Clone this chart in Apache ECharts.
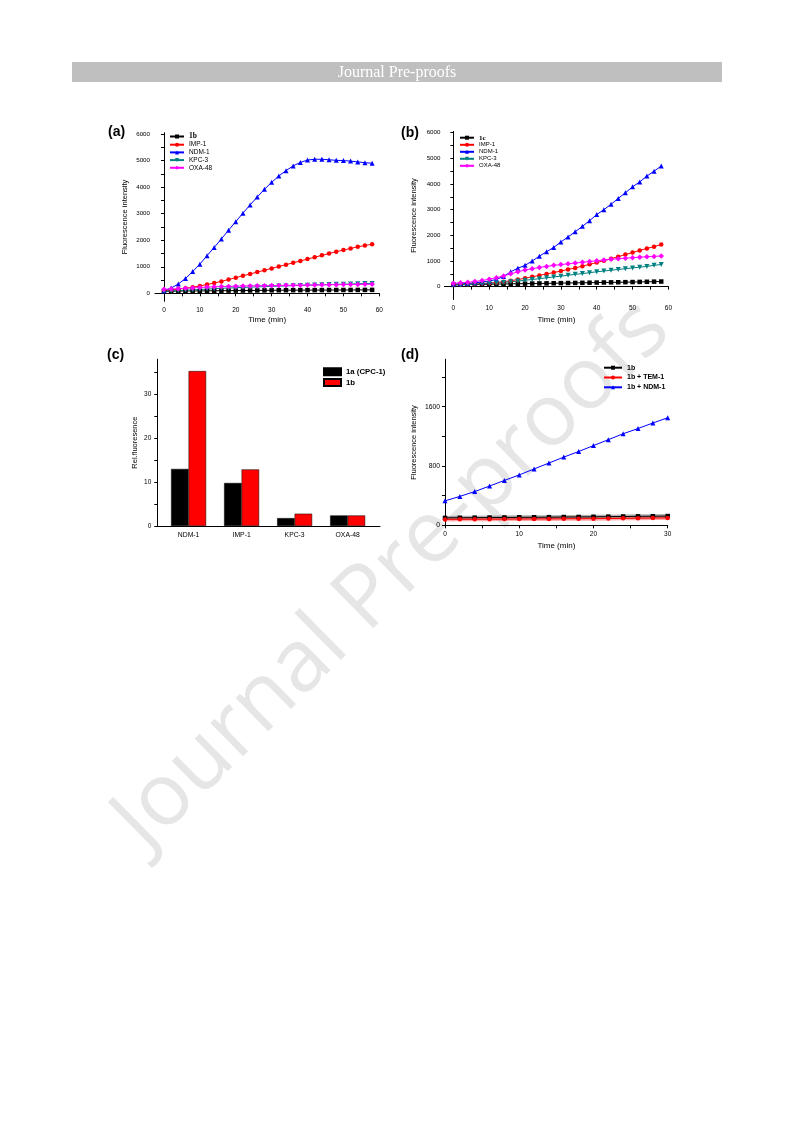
<!DOCTYPE html>
<html>
<head>
<meta charset="utf-8">
<script src="https://cdn.jsdelivr.net/npm/echarts@6/dist/echarts.min.js"></script>
<style>
html,body{margin:0;padding:0;background:#fff;}
#chart{width:793px;height:1121px;}
</style>
</head>
<body>
<div id="chart"></div>
<script>
// ---------- data ----------
const timeAB = [0,2,4,6,8,10,12,14,16,18,20,22,24,26,28,30,32,34,36,38,40,42,44,46,48,50,52,54,56,58];
const legendA = ['1b','IMP-1','NDM-1','KPC-3','OXA-48'];
const a_1b    = [80,82,85,88,90,92,95,97,100,102,104,106,108,110,112,114,116,118,119,120,121,122,123,124,125,126,127,128,129,130];
const a_IMP1  = [100,130,160,190,230,280,330,390,450,520,590,660,730,800,870,940,1010,1080,1150,1220,1290,1360,1430,1500,1570,1630,1690,1750,1800,1850];
const a_NDM1  = [100,200,350,560,820,1100,1420,1730,2050,2380,2700,3020,3330,3630,3920,4180,4420,4620,4800,4930,5020,5050,5050,5030,5010,5000,4980,4950,4920,4900];
const a_KPC3  = [80,90,100,115,130,145,160,175,190,200,212,222,232,242,252,262,272,280,290,298,306,314,322,330,338,345,352,360,368,375];
const a_OXA48 = [150,160,175,190,205,220,235,245,255,262,268,274,279,284,288,292,296,300,304,308,312,316,320,324,328,331,334,337,340,343];

const legendB = ['1c','IMP-1','NDM-1','KPC-3','OXA-48'];
const b_1c    = [70,75,80,85,90,95,100,105,110,115,118,122,126,130,134,138,142,146,150,155,160,164,168,172,176,180,185,190,195,200];
const b_IMP1  = [80,85,95,105,120,140,165,195,230,275,330,385,440,495,550,610,670,730,800,870,940,1010,1090,1170,1250,1330,1410,1490,1560,1640];
const b_NDM1  = [100,110,125,150,180,220,280,400,580,720,830,1000,1190,1360,1530,1740,1940,2140,2350,2570,2810,3000,3210,3440,3660,3890,4080,4310,4500,4700];
const b_KPC3  = [70,75,85,95,110,125,145,165,190,220,250,280,310,345,380,410,445,480,510,545,580,610,640,670,700,730,760,790,830,865];
const b_OXA48 = [130,150,170,200,240,290,350,420,500,580,650,700,750,790,830,860,890,920,950,980,1010,1040,1065,1090,1110,1130,1150,1165,1180,1195];

const catsC = ['NDM-1','IMP-1','KPC-3','OXA-48'];
const legendC = ['1a (CPC-1)','1b'];
const c_1a = [13, 9.8, 1.8, 2.4];
const c_1b = [35.3, 12.9, 2.8, 2.4];

const timeD = [0,2,4,6,8,10,12,14,16,18,20,22,24,26,28,30];
const legendD = ['1b','1b + TEM-1','1b + NDM-1'];
const d_1b    = [100,102,103,105,106,108,109,110,112,113,115,117,119,121,123,125];
const d_TEM1  = [80,81,82,83,84,85,86,87,88,89,90,92,94,96,98,100];
const d_NDM1  = [330,390,455,530,605,680,760,840,920,995,1075,1155,1235,1305,1380,1450];

const ticksAB_x = [0,5,10,15,20,25,30,35,40,45,50,55,60];
const labelsAB_x = [0,10,20,30,40,50,60];
const ticksAB_y = [0,500,1000,1500,2000,2500,3000,3500,4000,4500,5000,5500,6000];
const labelsAB_y = [0,1000,2000,3000,4000,5000,6000];
const ticksC_y = [0,5,10,15,20,25,30,35];
const labelsC_y = [0,10,20,30];
const ticksD_x = [0,5,10,15,20,25,30];
const labelsD_x = [0,10,20,30];
const ticksD_y = [0,400,800,1200,1600,2000];
const labelsD_y = [0,800,1600];

// ---------- helpers ----------
const FONT = 'Liberation Sans';
const pair = (xs, ys) => xs.map((x, i) => [x, ys[i]]);
const axisLineStyle = {show: true, lineStyle: {color: '#000', width: 1}};

function valAxis(grid, min, max, tickVals, labelVals, fontSize, margin, name, nameGap, nameSize) {
  return {
    type: 'value', gridIndex: grid, min: min, max: max,
    axisLine: axisLineStyle,
    axisTick: {show: true, length: 3, lineStyle: {color: '#000'}, customValues: tickVals},
    axisLabel: {show: true, customValues: labelVals, formatter: v => String(v),
                fontSize: fontSize, fontFamily: FONT, color: '#000', margin: margin},
    splitLine: {show: false},
    name: name, nameLocation: 'middle', nameGap: nameGap,
    nameTextStyle: {fontSize: nameSize, fontFamily: FONT, color: '#000'}
  };
}

function lineSeries(id, label, xi, xs, ys, color, symbol, size, rot, z) {
  return {
    type: 'line', name: id + '|' + label, xAxisIndex: xi, yAxisIndex: xi,
    data: pair(xs, ys), symbol: symbol, symbolSize: size, symbolRotate: rot || 0,
    showSymbol: true, lineStyle: {color: color, width: 1}, itemStyle: {color: color},
    z: z || 3, animation: false
  };
}

const legendFormatter = name => {
  const t = name.split('|')[1];
  return (t === '1b' || t === '1c') ? '{b|' + t + '}' : t;
};
const plainFormatter = name => name.split('|')[1];

// ---------- option ----------
const option = {
  backgroundColor: '#fff',
  animation: false,
  grid: [
    {left: 155, top: 132.7, width: 224.3, height: 168.6},
    {left: 444.4, top: 131.4, width: 224, height: 168.1},
    {left: 157.3, top: 359.2, width: 222.7, height: 166.8},
    {left: 445, top: 359.2, width: 222.7, height: 166.5}
  ],
  xAxis: [
    valAxis(0, -2.5, 60, ticksAB_x, labelsAB_x, 6.5, 5, 'Time (min)', 14, 8),
    valAxis(1, -2.5, 60, ticksAB_x, labelsAB_x, 6.5, 5, 'Time (min)', 16, 8),
    {
      type: 'value', gridIndex: 2, min: 0.41, max: 4.61,
      axisLine: axisLineStyle,
      axisTick: {show: false},
      axisLabel: {show: true, customValues: [1,2,3,4], formatter: v => catsC[Math.round(v) - 1],
                  fontSize: 6.8, fontFamily: FONT, color: '#000', margin: 6},
      splitLine: {show: false}
    },
    valAxis(3, 0, 30, ticksD_x, labelsD_x, 6.5, 5, 'Time (min)', 16, 8)
  ],
  yAxis: [
    valAxis(0, -300, 6050, ticksAB_y, labelsAB_y, 6.2, 5, 'Fluorescence intensity', 26, 7.5),
    valAxis(1, -500, 6050, ticksAB_y, labelsAB_y, 6.2, 4, 'Fluorescence intensity', 26, 7.5),
    valAxis(2, 0, 38, ticksC_y, labelsC_y, 6.5, 6, 'Rel.fluoresence', 18, 7.5),
    valAxis(3, -5, 2240, ticksD_y, labelsD_y, 6.8, 5, 'Fluorescence intensity', 27, 7.5)
  ],
  legend: [
    {
      orient: 'vertical', left: 169, top: 132.5, padding: 0, itemWidth: 14, itemHeight: 5, itemGap: 0.7,
      selectedMode: false, formatter: legendFormatter,
      textStyle: {fontSize: 6.5, fontFamily: FONT, color: '#000', lineHeight: 7,
                  rich: {b: {fontFamily: 'Liberation Serif', fontWeight: 'bold', fontSize: 7.5, lineHeight: 7}}},
      data: legendA.map(n => 'a|' + n)
    },
    {
      orient: 'vertical', left: 459, top: 134.2, padding: 0, itemWidth: 14, itemHeight: 5, itemGap: 0.2,
      selectedMode: false, formatter: legendFormatter,
      textStyle: {fontSize: 6, fontFamily: FONT, color: '#000', lineHeight: 6.8,
                  rich: {b: {fontFamily: 'Liberation Serif', fontWeight: 'bold', fontSize: 7, lineHeight: 6.8}}},
      data: legendB.map(n => 'b|' + n)
    },
    {
      orient: 'vertical', left: 323, top: 367.3, padding: 0, itemWidth: 17, itemHeight: 7, itemGap: 1.7, icon: 'rect',
      selectedMode: false, formatter: plainFormatter,
      textStyle: {fontSize: 7.8, fontFamily: FONT, fontWeight: 'bold', color: '#000', lineHeight: 7},
      data: legendC.map(n => 'c|' + n)
    },
    {
      orient: 'vertical', left: 603, top: 363.7, padding: 0, itemWidth: 18, itemHeight: 5, itemGap: 1.8,
      selectedMode: false, formatter: plainFormatter,
      textStyle: {fontSize: 7, fontFamily: FONT, fontWeight: 'bold', color: '#000', lineHeight: 8},
      data: legendD.map(n => 'd|' + n)
    }
  ],
  series: [
    // (a)
    lineSeries('a', legendA[0], 0, timeAB, a_1b, '#000000', 'rect', 4.5),
    lineSeries('a', legendA[1], 0, timeAB, a_IMP1, '#ff0000', 'circle', 4.5),
    lineSeries('a', legendA[2], 0, timeAB, a_NDM1, '#0000ff', 'triangle', 5),
    lineSeries('a', legendA[3], 0, timeAB, a_KPC3, '#008080', 'triangle', 5, 180),
    lineSeries('a', legendA[4], 0, timeAB, a_OXA48, '#ff00ff', 'diamond', 5.5),
    // (b)
    lineSeries('b', legendB[0], 1, timeAB, b_1c, '#000000', 'rect', 4.5),
    lineSeries('b', legendB[1], 1, timeAB, b_IMP1, '#ff0000', 'circle', 4.5),
    lineSeries('b', legendB[2], 1, timeAB, b_NDM1, '#0000ff', 'triangle', 5),
    lineSeries('b', legendB[3], 1, timeAB, b_KPC3, '#008080', 'triangle', 5, 180),
    lineSeries('b', legendB[4], 1, timeAB, b_OXA48, '#ff00ff', 'diamond', 5.5),
    // (c)
    {
      type: 'bar', name: 'c|' + legendC[0], xAxisIndex: 2, yAxisIndex: 2,
      data: catsC.map((c, i) => [i + 1, c_1a[i]]), barWidth: 17.5, barGap: '0%',
      itemStyle: {color: '#000000', borderColor: '#000', borderWidth: 0.5}, animation: false
    },
    {
      type: 'bar', name: 'c|' + legendC[1], xAxisIndex: 2, yAxisIndex: 2,
      data: catsC.map((c, i) => [i + 1, c_1b[i]]), barWidth: 17.5, barGap: '0%',
      itemStyle: {color: '#ff0000', borderColor: '#000', borderWidth: 0.5}, animation: false
    },
    // (d) bands (drawn from same data, wider and translucent)
    {
      type: 'line', name: 'd|band1', xAxisIndex: 3, yAxisIndex: 3, data: pair(timeD, d_1b),
      symbol: 'none', lineStyle: {color: 'rgba(80,80,80,0.45)', width: 4}, z: 2, silent: true, animation: false
    },
    {
      type: 'line', name: 'd|band2', xAxisIndex: 3, yAxisIndex: 3, data: pair(timeD, d_TEM1),
      symbol: 'none', lineStyle: {color: 'rgba(255,60,60,0.45)', width: 4}, z: 2, silent: true, animation: false
    },
    lineSeries('d', legendD[0], 3, timeD, d_1b, '#000000', 'rect', 4.5, 0, 4),
    lineSeries('d', legendD[1], 3, timeD, d_TEM1, '#ff0000', 'circle', 4.5, 0, 4),
    lineSeries('d', legendD[2], 3, timeD, d_NDM1, '#0000ff', 'triangle', 5, 0, 4)
  ],
  graphic: [
    {
      type: 'text', x: 392, y: 575, rotation: 0.777, z: -10, silent: true,
      style: {text: 'Journal Pre-proofs', font: '87px "Open Sans"', fill: '#e6e6e6',
              align: 'center', verticalAlign: 'middle', textAlign: 'center', textVerticalAlign: 'middle'}
    },
    {
      type: 'rect', z: 1, silent: true,
      shape: {x: 72, y: 62, width: 650, height: 20},
      style: {fill: '#bfbfbf'}
    },
    {
      type: 'text', x: 397, y: 72.5, z: 2, silent: true,
      style: {text: 'Journal Pre-proofs', font: '16px "Liberation Serif"', fill: '#ffffff',
              align: 'center', verticalAlign: 'middle', textAlign: 'center', textVerticalAlign: 'middle'}
    },
    {type: 'text', x: 108, y: 132, z: 5, style: {text: '(a)', font: 'bold 14px "Liberation Sans"', fill: '#000', align: 'left', verticalAlign: 'middle', textAlign: 'left', textVerticalAlign: 'middle'}},
    {type: 'text', x: 401, y: 133, z: 5, style: {text: '(b)', font: 'bold 14px "Liberation Sans"', fill: '#000', align: 'left', verticalAlign: 'middle', textAlign: 'left', textVerticalAlign: 'middle'}},
    {type: 'text', x: 107, y: 355, z: 5, style: {text: '(c)', font: 'bold 14px "Liberation Sans"', fill: '#000', align: 'left', verticalAlign: 'middle', textAlign: 'left', textVerticalAlign: 'middle'}},
    {type: 'text', x: 401, y: 355, z: 5, style: {text: '(d)', font: 'bold 14px "Liberation Sans"', fill: '#000', align: 'left', verticalAlign: 'middle', textAlign: 'left', textVerticalAlign: 'middle'}}
  ]
};

const chart = echarts.init(document.getElementById('chart'), null, {renderer: 'canvas', width: 793, height: 1121});
chart.setOption(option);
</script>
</body>
</html>
